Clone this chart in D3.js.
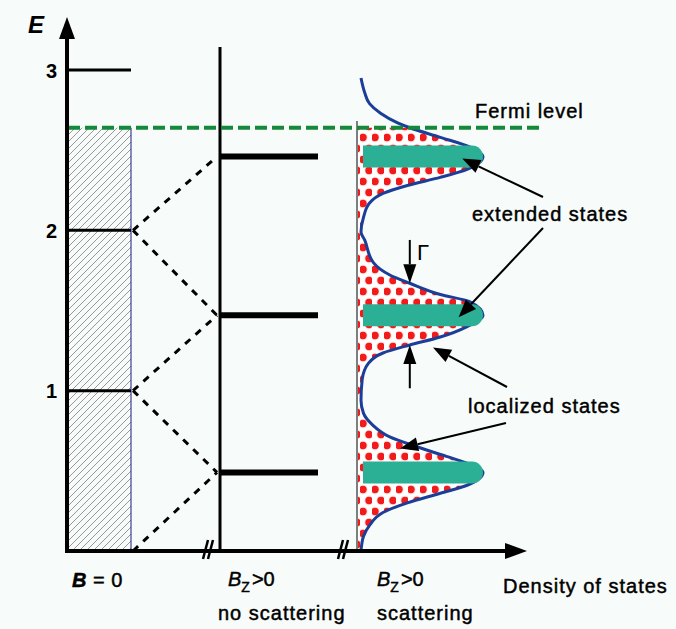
<!DOCTYPE html>
<html>
<head>
<meta charset="utf-8">
<script src="https://cdn.jsdelivr.net/npm/d3@7"></script>
<style>
  html, body { margin: 0; padding: 0; background: #f7fbf9; }
  svg { display: block; }
  text { font-family: "Liberation Sans", Arial, Helvetica, sans-serif; fill: #000; }
</style>
</head>
<body>
<script>
// Energy axis ticks and the free-electron (B = 0) reference levels
const energyTicks = [1, 2, 3];
const freeLevels = [1, 2, 3];
// Landau levels for B_z > 0
const landauLevels = [0.49, 1.47, 2.46];
// Dashed fan: free-electron energy -> Landau level
const fanFrom = [0, 1, 1, 2, 2];
const fanTo = [0.49, 0.49, 1.47, 1.47, 2.46];
const fermiEnergy = 2.64;
// Broadened density of states (energy, relative density)
const dosEnergy = [0.00, 0.09, 0.16, 0.24, 0.30, 0.36, 0.41, 0.49, 0.54, 0.59, 0.65, 0.71, 0.79, 0.86, 0.94,
                   1.07, 1.17, 1.235, 1.285, 1.335, 1.40, 1.47, 1.555, 1.60, 1.67, 1.72, 1.80, 1.94, 1.99,
                   2.08, 2.17, 2.23, 2.28, 2.33, 2.38, 2.46, 2.52, 2.58, 2.64, 2.67, 2.73, 2.79, 2.86, 2.95];
const dosValue  = [0.00, 0.02, 0.07, 0.18, 0.38, 0.65, 0.87, 1.00, 0.90, 0.70, 0.46, 0.24, 0.09, 0.02, 0.00,
                   0.01, 0.06, 0.18, 0.40, 0.65, 0.87, 1.00, 0.89, 0.65, 0.40, 0.24, 0.10, 0.03, 0.00,
                   0.02, 0.07, 0.18, 0.38, 0.65, 0.87, 1.00, 0.89, 0.65, 0.40, 0.30, 0.16, 0.07, 0.03, 0.00];
const gammaHalf = 0.40; // relative density where the level width is marked

const W = 676, H = 629;
const y = d3.scaleLinear().domain([0, 3]).range([551, 70]);
const xDos = d3.scaleLinear().domain([0, 1]).range([361, 483]);

// panel layout
const axisX = 67, freeRight = 131, midX = 220, midRight = 318, dosLeft = 357, barLeft = 363;
const axisY = y(0), xAxisEnd = 527;

const svg = d3.select("body").append("svg").attr("width", W).attr("height", H);
svg.append("rect").attr("width", W).attr("height", H).attr("fill", "#f7fbf9");

const defs = svg.append("defs");
const hatch = defs.append("pattern").attr("id", "hatch")
  .attr("patternUnits", "userSpaceOnUse").attr("width", 7).attr("height", 7);
hatch.append("rect").attr("width", 7).attr("height", 7).attr("fill", "#f7fbf9");
hatch.append("path").attr("d", "M-1,1 l2,-2 M0,7 l7,-7 M6,8 l2,-2")
  .attr("stroke", "#8c8c8c").attr("stroke-width", 0.9);

const dots = defs.append("pattern").attr("id", "dots")
  .attr("patternUnits", "userSpaceOnUse").attr("width", 12).attr("height", 22);
dots.append("rect").attr("width", 12).attr("height", 22).attr("fill", "#ffffff");
[[3, 5.5], [9, 16.5]].forEach(([cx, cy]) => {
  dots.append("circle").attr("cx", cx).attr("cy", cy).attr("r", 4.8).attr("fill", "#fde3de");
  dots.append("circle").attr("cx", cx).attr("cy", cy).attr("r", 3.7).attr("fill", "#f21a1a");
});

// B = 0: filled states up to the Fermi level
svg.append("rect")
  .attr("x", axisX).attr("y", y(fermiEnergy))
  .attr("width", freeRight - axisX).attr("height", y(0) - y(fermiEnergy))
  .attr("fill", "url(#hatch)");
svg.append("line").attr("x1", freeRight).attr("x2", freeRight)
  .attr("y1", y(fermiEnergy)).attr("y2", y(0))
  .attr("stroke", "#1a1a80").attr("stroke-width", 1);

svg.selectAll("line.free").data(freeLevels).join("line").attr("class", "free")
  .attr("x1", axisX).attr("x2", freeRight)
  .attr("y1", d => y(d)).attr("y2", d => y(d))
  .attr("stroke", "#000").attr("stroke-width", 3);

// Landau fan
svg.selectAll("line.fan").data(d3.zip(fanFrom, fanTo)).join("line").attr("class", "fan")
  .attr("x1", freeRight + 2).attr("y1", d => y(d[0]))
  .attr("x2", midX - 3).attr("y2", d => y(d[1]))
  .attr("stroke", "#000").attr("stroke-width", 3).attr("stroke-dasharray", "7,7");

// B_z > 0, no scattering
svg.append("line").attr("x1", midX).attr("x2", midX).attr("y1", 47).attr("y2", axisY)
  .attr("stroke", "#000").attr("stroke-width", 3);
svg.selectAll("line.lev").data(landauLevels).join("line").attr("class", "lev")
  .attr("x1", midX).attr("x2", midRight)
  .attr("y1", d => y(d)).attr("y2", d => y(d))
  .attr("stroke", "#000").attr("stroke-width", 6);

// B_z > 0 with scattering: broadened density of states
const dosPts = d3.zip(dosEnergy, dosValue);
svg.append("line").attr("x1", dosLeft).attr("x2", dosLeft).attr("y1", 121).attr("y2", axisY)
  .attr("stroke", "#555").attr("stroke-width", 1.5);

const filled = dosPts.filter(d => d[0] <= fermiEnergy);
svg.append("path").datum(filled)
  .attr("d", d3.area().curve(d3.curveMonotoneY)
    .y(d => y(d[0])).x0(dosLeft + 1).x1(d => xDos(d[1])))
  .attr("fill", "url(#dots)");

svg.append("path").datum(dosPts)
  .attr("d", d3.line().curve(d3.curveMonotoneY).y(d => y(d[0])).x(d => xDos(d[1])))
  .attr("fill", "none").attr("stroke", "#1b3f98").attr("stroke-width", 3);

const barH = 22;
svg.selectAll("path.ext").data(landauLevels).join("path").attr("class", "ext")
  .attr("d", d => {
    const yc = y(d), r = barH / 2, xr = xDos(1);
    return `M${barLeft},${yc - r} H${xr - r} A${r},${r} 0 0 1 ${xr - r},${yc + r} H${barLeft} Z`;
  })
  .attr("fill", "#2bb096");

// Fermi level
svg.append("line").attr("x1", axisX + 1).attr("x2", 543)
  .attr("y1", y(fermiEnergy)).attr("y2", y(fermiEnergy))
  .attr("stroke", "#15893a").attr("stroke-width", 4).attr("stroke-dasharray", "12,5");

// Axes
svg.append("line").attr("x1", axisX).attr("x2", axisX).attr("y1", axisY + 2).attr("y2", 36)
  .attr("stroke", "#000").attr("stroke-width", 4);
svg.append("path").attr("d", `M${axisX},17 L${axisX + 8},39 L${axisX - 8},39 Z`).attr("fill", "#000");
svg.append("line").attr("x1", axisX - 2).attr("x2", xAxisEnd - 20).attr("y1", axisY).attr("y2", axisY)
  .attr("stroke", "#000").attr("stroke-width", 4);
svg.append("path").attr("d", `M${xAxisEnd},${axisY} L${xAxisEnd - 22},${axisY - 8} L${xAxisEnd - 22},${axisY + 8} Z`)
  .attr("fill", "#000");

// axis break marks
[206, 341].forEach(bx => {
  [0, 5].forEach(o => {
    svg.append("line")
      .attr("x1", bx + o - 3).attr("y1", axisY + 8)
      .attr("x2", bx + o + 2).attr("y2", axisY - 11)
      .attr("stroke", "#000").attr("stroke-width", 2.5);
  });
});

svg.selectAll("text.tick").data(energyTicks).join("text").attr("class", "tick")
  .attr("x", 57).attr("y", d => y(d) + 7.5)
  .attr("text-anchor", "end").attr("font-size", 20).attr("font-weight", "bold")
  .text(d => d);

svg.append("text").attr("x", 28).attr("y", 33)
  .attr("font-size", 24).attr("font-weight", "bold").attr("font-style", "italic").text("E");

// Labels
const heavy = t => t.attr("stroke", "#000").attr("stroke-width", 0.45);
const lab = (x, yy, s) => heavy(svg.append("text").attr("x", x).attr("y", yy)
  .attr("font-size", 20).attr("letter-spacing", 1).text(s));

lab(475, 118, "Fermi level");
lab(472, 221, "extended states");
lab(468, 413, "localized states");
lab(503, 593, "Density of states");

const b0 = heavy(svg.append("text").attr("x", 72).attr("y", 587).attr("font-size", 20).attr("letter-spacing", 0.5));
b0.append("tspan").attr("font-style", "italic").attr("font-weight", "bold").text("B");
b0.append("tspan").text(" = 0");

function bz(x) {
  const t = heavy(svg.append("text").attr("x", x).attr("y", 586).attr("font-size", 20));
  t.append("tspan").attr("font-style", "italic").text("B");
  t.append("tspan").attr("font-size", 14).attr("dy", 6).text("Z");
  t.append("tspan").attr("dy", -6).attr("dx", 2).text(">0");
}
bz(228);
bz(377);
lab(218, 620, "no scattering");
lab(377, 620, "scattering");

svg.append("text").attr("x", 417).attr("y", 260)
  .attr("font-family", "'DejaVu Serif', 'Liberation Serif', serif")
  .attr("font-size", 22).text("Γ");

// Annotation arrows
function arrow(x1, y1, x2, y2, len = 18, half = 7) {
  const a = Math.atan2(y2 - y1, x2 - x1);
  const bx = x2 - len * Math.cos(a), by = y2 - len * Math.sin(a);
  svg.append("line").attr("x1", x1).attr("y1", y1).attr("x2", bx).attr("y2", by)
    .attr("stroke", "#000").attr("stroke-width", 2);
  const px = -Math.sin(a) * half, py = Math.cos(a) * half;
  svg.append("path")
    .attr("d", `M${x2},${y2} L${bx + px},${by + py} L${bx - px},${by - py} Z`)
    .attr("fill", "#000");
}
arrow(543, 197, xDos(0.83), y(landauLevels[2]) + 2);
arrow(543, 228, xDos(0.80), y(landauLevels[1]) + 2);
arrow(507, 387, xDos(0.59), y(1.27));
arrow(506, 423, xDos(0.32), y(0.64));
// level width markers
arrow(xDos(gammaHalf), y(1.94), xDos(gammaHalf), y(1.67), 19, 6.5);
arrow(xDos(gammaHalf), y(1.015), xDos(gammaHalf), y(1.285), 19, 6.5);
</script>
</body>
</html>
